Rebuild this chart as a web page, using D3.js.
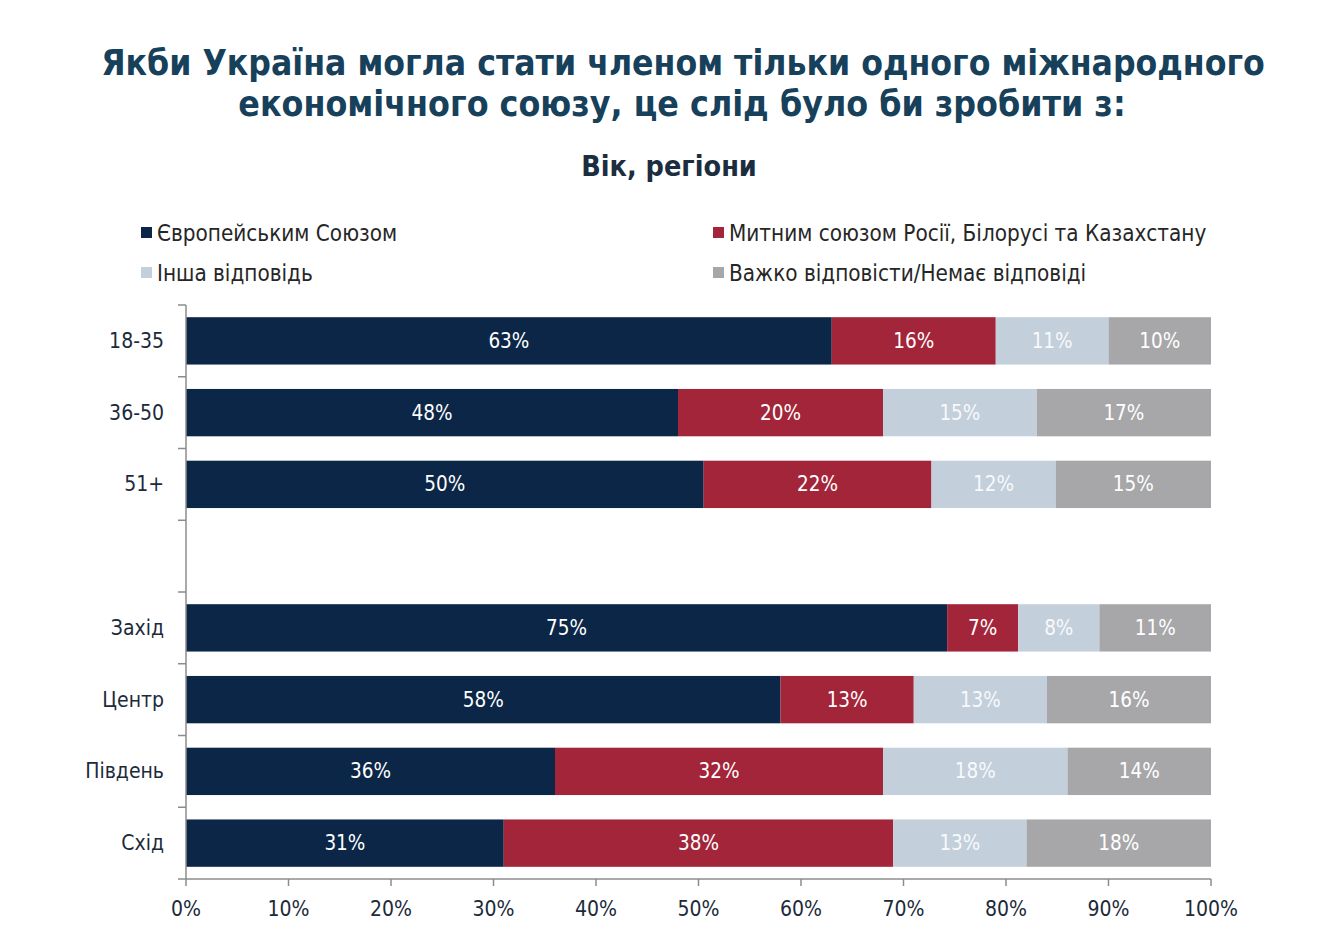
<!DOCTYPE html>
<html><head><meta charset="utf-8">
<script src="https://cdn.jsdelivr.net/npm/d3@7"></script>
<style>
body{margin:0;background:#fff;}
svg{display:block;}
</style></head>
<body>
<svg id="chart" width="1339" height="930"></svg>
<script>
const categories = ["18-35","36-50","51+","","Захід","Центр","Південь","Схід"];
const seriesNames = ["Європейським Союзом","Митним союзом Росії, Білорусі та Казахстану","Інша відповідь","Важко відповісти/Немає відповіді"];
const euValues    = [63,48,50,null,75,58,36,31];
const customsValues = [16,20,22,null,7,13,32,38];
const otherValues = [11,15,12,null,8,13,18,13];
const hardValues  = [10,17,15,null,11,16,14,18];
const xTicks = [0,10,20,30,40,50,60,70,80,90,100];
const colors = ["#0c2647","#a32539","#c4cfdc","#a7a7a9"];

const svg = d3.select("#chart");
const font = "'DejaVu Sans Condensed','DejaVu Sans',sans-serif";
const margin = {left:186, right:128, top:305, bottom:51};
const W = 1339, H = 930;

// Title
svg.append("text").attr("x",683).attr("y",75).attr("text-anchor","middle")
  .attr("font-family",font).attr("font-weight","bold").attr("font-size",35.2)
  .attr("fill","#17405b").text("Якби Україна могла стати членом тільки одного міжнародного");
svg.append("text").attr("x",682).attr("y",116).attr("text-anchor","middle")
  .attr("font-family",font).attr("font-weight","bold").attr("font-size",35.4)
  .attr("fill","#17405b").text("економічного союзу, це слід було би зробити з:");
svg.append("text").attr("x",669).attr("y",176).attr("text-anchor","middle")
  .attr("font-family",font).attr("font-weight","bold").attr("font-size",28.5)
  .attr("fill","#1c2d40").text("Вік, регіони");

// Legend
const legendPos = [[141,233],[713,233],[141,273],[713,273]];
seriesNames.forEach((n,i)=>{
  const [lx,ly] = legendPos[i];
  svg.append("rect").attr("x",lx).attr("y",ly-6).attr("width",11).attr("height",11).attr("fill",colors[i]);
  svg.append("text").attr("x",lx+16).attr("y",ly+8).attr("font-family",font)
    .attr("font-size",22.3).attr("fill","#262626").text(n);
});

const x = d3.scaleLinear().domain([0,100]).range([margin.left, W-margin.right]);
const y = d3.scaleBand().domain(categories.map((c,i)=>i)).range([margin.top, H-margin.bottom])
  .paddingInner(0.34).paddingOuter(0.17);

const rows = categories.map((c,i)=>{
  const vals=[euValues[i],customsValues[i],otherValues[i],hardValues[i]];
  return {cat:c, i, vals};
}).filter(r=>r.vals[0]!=null);

rows.forEach(r=>{
  const total = d3.sum(r.vals);
  let acc = 0;
  r.vals.forEach((v,k)=>{
    const x0 = x(acc/total*100), x1 = x((acc+v)/total*100);
    acc += v;
    svg.append("rect").attr("x",x0).attr("y",y(r.i)).attr("width",x1-x0)
      .attr("height",y.bandwidth()).attr("fill",colors[k]);
    svg.append("text").attr("x",(x0+x1)/2).attr("y",y(r.i)+y.bandwidth()/2+7)
      .attr("text-anchor","middle").attr("font-family",font).attr("font-size",20.5)
      .attr("fill","#ffffff").attr("fill-opacity", k===2?0.9:1).text(v+"%");
  });
});

// Y axis
const axisColor = "#8c8c8c";
svg.append("line").attr("x1",x(0)).attr("x2",x(0)).attr("y1",margin.top).attr("y2",H-margin.bottom)
  .attr("stroke",axisColor).attr("stroke-width",1.5);
const step = y.step();
d3.range(categories.length+1).forEach(k=>{
  const yy = margin.top + k*step;
  svg.append("line").attr("x1",x(0)-8).attr("x2",x(0)).attr("y1",yy).attr("y2",yy)
    .attr("stroke",axisColor).attr("stroke-width",1.5);
});
rows.forEach(r=>{
  svg.append("text").attr("x",164).attr("y",y(r.i)+y.bandwidth()/2+7).attr("text-anchor","end")
    .attr("font-family",font).attr("font-size",21).attr("fill","#1c2a3a").text(r.cat);
});

// X axis
const xAxisY = H-margin.bottom;
svg.append("line").attr("x1",x(0)).attr("x2",x(100)).attr("y1",xAxisY).attr("y2",xAxisY)
  .attr("stroke",axisColor).attr("stroke-width",1.5);
xTicks.forEach(t=>{
  svg.append("line").attr("x1",x(t)).attr("x2",x(t)).attr("y1",xAxisY).attr("y2",xAxisY+7)
    .attr("stroke",axisColor).attr("stroke-width",1.5);
  svg.append("text").attr("x",x(t)).attr("y",916).attr("text-anchor","middle")
    .attr("font-family",font).attr("font-size",21).attr("fill","#1c2a3a").text(t+"%");
});
</script>
</body></html>
